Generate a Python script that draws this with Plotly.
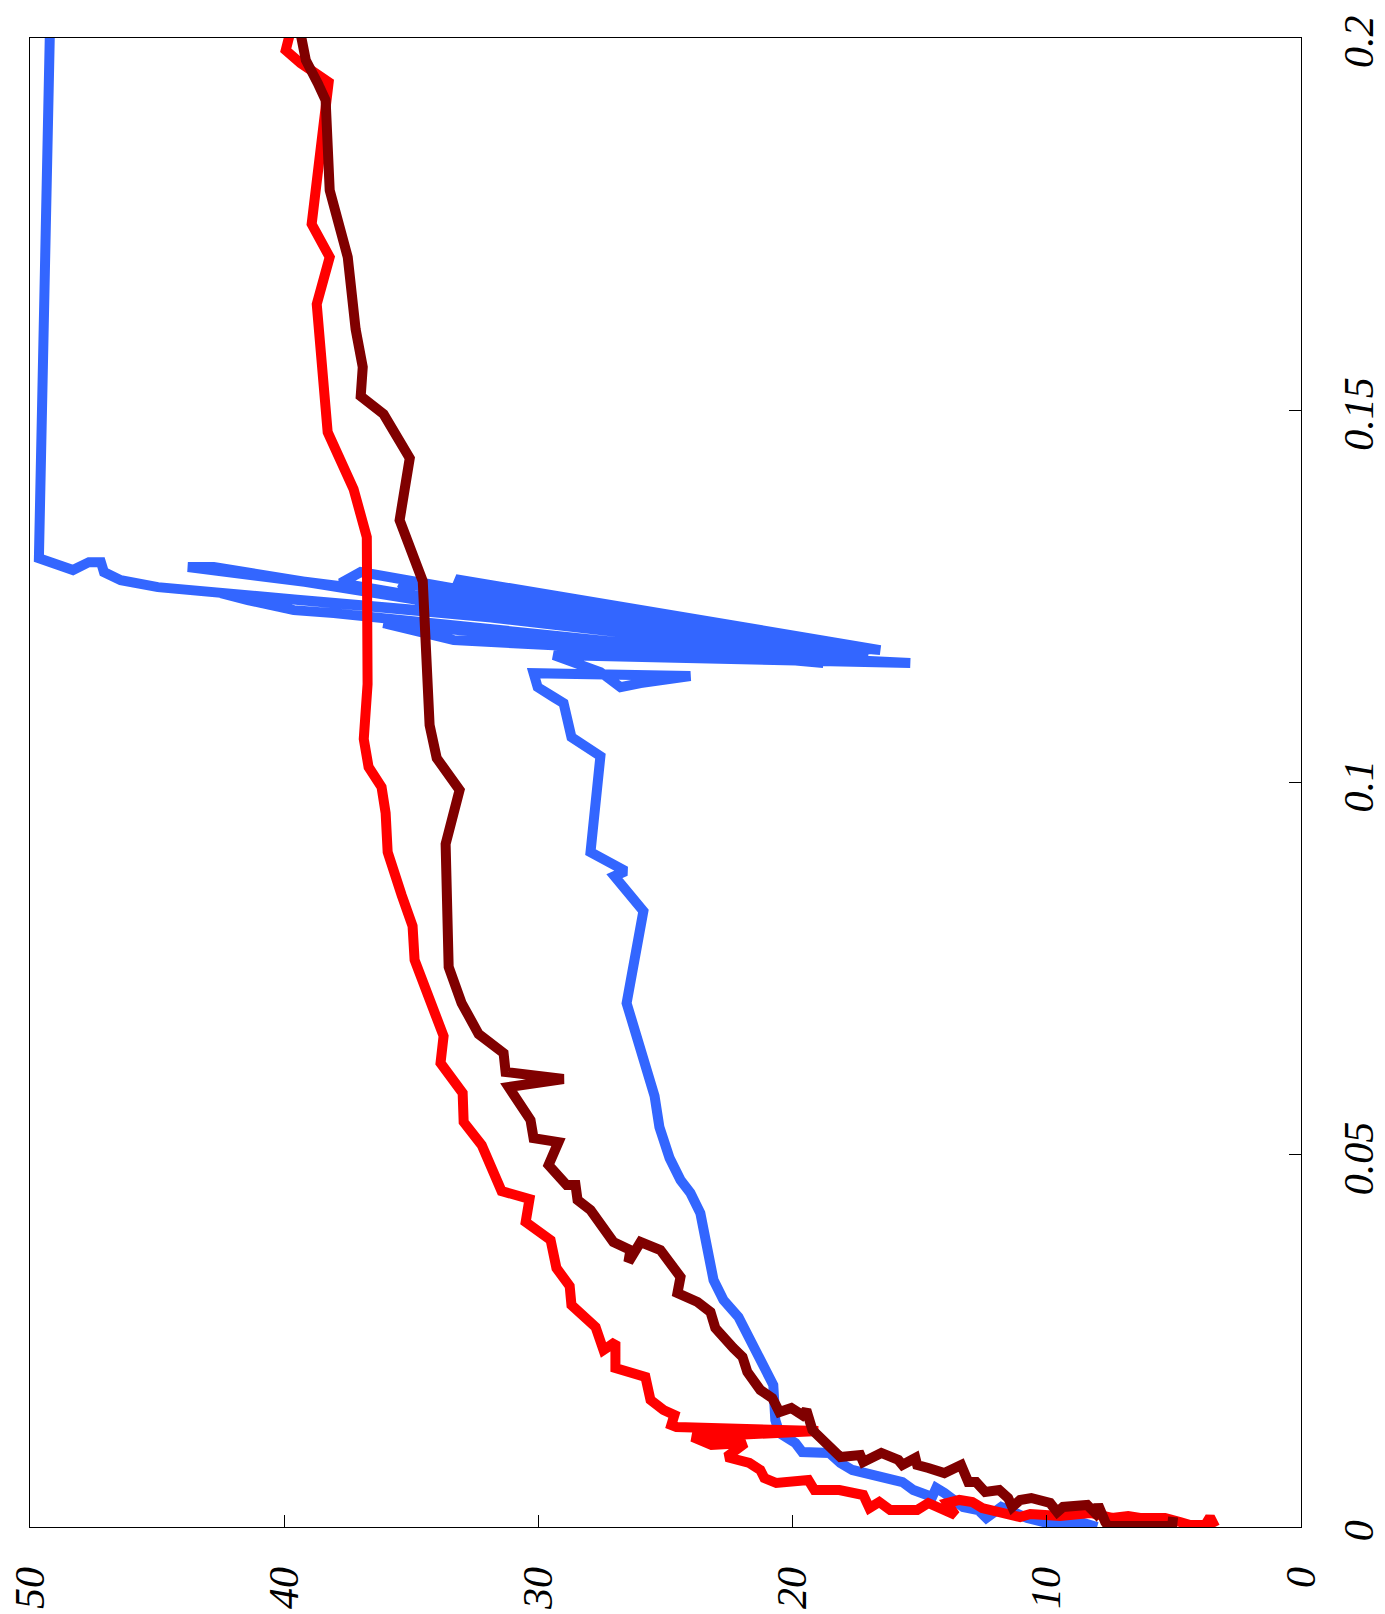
import plotly.graph_objects as go

# Parameter (right axis, 0..0.2) and value (bottom axis, 50..0) for each series
blue_t = [0.0, 0.00067, 0.00054, 0.00121, 0.00269, 0.00121, 0.00228, 0.00269, 0.00457, 0.00524,
          0.00403, 0.00497, 0.00604, 0.00698, 0.00766, 0.0086, 0.00994, 0.01007, 0.01128, 0.01262,
          0.01437, 0.01907, 0.02471, 0.0282, 0.03049, 0.03317, 0.04217, 0.04486, 0.0466, 0.04956,
          0.05372, 0.05788, 0.07037, 0.08273, 0.08743, 0.0881, 0.09065, 0.10354, 0.1061, 0.11066,
          0.11147, 0.11281, 0.11469, 0.11429, 0.11335, 0.11281, 0.11483, 0.11577, 0.11711, 0.11604,
          0.11912, 0.1214, 0.11604, 0.12275, 0.12315, 0.1245, 0.12544, 0.11778, 0.12732, 0.12584,
          0.11711, 0.12678, 0.12315, 0.11644, 0.12826, 0.12678, 0.11644, 0.12893, 0.12893, 0.11778,
          0.12584, 0.12624, 0.12718, 0.12826, 0.1296, 0.1296, 0.12853, 0.13014, 0.2005]
blue_v = [8.02, 8.69, 9.98, 10.77, 11.79, 12.38, 12.70, 13.29, 14.03, 14.35,
          14.51, 15.25, 15.68, 16.75, 17.65, 18.12, 18.55, 19.62, 19.89, 20.52,
          20.68, 20.76, 21.66, 22.13, 22.72, 23.11, 23.63, 24.02, 24.41, 24.84,
          25.24, 25.43, 26.53, 25.87, 27.01, 26.57, 27.95, 27.56, 28.70, 29.01,
          29.40, 30.03, 30.19, 24.02, 25.98, 26.77, 27.56, 28.34, 29.40, 15.37,
          33.33, 36.09, 18.79, 38.05, 39.62, 41.43, 42.49, 16.55, 33.26, 32.67,
          17.02, 35.42, 34.36, 17.34, 36.99, 37.78, 20.01, 42.77, 43.79, 17.73,
          43.95, 44.97, 46.43, 47.09, 47.21, 47.68, 48.31, 49.65, 49.22]

red_t = [0.0, 0.00134, 0.00027, 0.00027, 0.00067, 0.00121, 0.00121, 0.00148, 0.00121, 0.00188,
         0.00148, 0.00175, 0.00134, 0.00255, 0.00336, 0.00363, 0.00322, 0.00161, 0.00322, 0.00228,
         0.00228, 0.00336, 0.00255, 0.0043, 0.00497, 0.00497, 0.00631, 0.00591, 0.00658, 0.00766,
         0.0086, 0.0094, 0.01128, 0.01101, 0.01209, 0.01289, 0.01343, 0.0137, 0.01504, 0.01571,
         0.01706, 0.0184, 0.02015, 0.02135, 0.02485, 0.02377, 0.02686, 0.02981, 0.03237, 0.03478,
         0.03854, 0.04096, 0.04405, 0.04512, 0.0513, 0.05439, 0.05829, 0.06232, 0.06594, 0.07615,
         0.08071, 0.08488, 0.09065, 0.09589, 0.09938, 0.10207, 0.10583, 0.11321, 0.13296, 0.1394,
         0.14706, 0.16425, 0.17056, 0.175, 0.19406, 0.19662, 0.19836, 0.2005]
red_v = [3.38, 3.58, 3.77, 4.36, 4.76, 5.35, 6.33, 6.80, 7.43, 8.29,
         9.47, 10.65, 11.05, 12.54, 12.93, 13.44, 13.92, 13.60, 14.66, 15.10,
         16.16, 16.59, 16.98, 17.22, 18.16, 19.14, 19.38, 20.64, 21.11, 21.27,
         21.70, 22.60, 21.86, 23.19, 23.94, 18.99, 24.57, 24.77, 24.65, 25.08,
         25.59, 25.71, 25.79, 26.97, 26.97, 27.44, 27.75, 28.70, 28.77, 29.29,
         29.52, 30.50, 30.35, 31.45, 32.23, 32.94, 32.98, 33.85, 33.73, 34.87,
         34.95, 35.38, 35.93, 36.01, 36.17, 36.68, 36.87, 36.72, 36.75, 37.27,
         38.29, 38.72, 38.21, 38.92, 38.25, 39.35, 39.94, 39.78]

dark_t = [0.00134, 0.00013, 0.00013, 0.00067, 0.00295, 0.00188, 0.00295, 0.00269, 0.00201, 0.00322,
          0.00389, 0.00363, 0.00269, 0.00389, 0.00497, 0.0047, 0.00604, 0.00604, 0.00833, 0.00725,
          0.00792, 0.00833, 0.00927, 0.00833, 0.009, 0.00994, 0.00873, 0.00967, 0.0094, 0.01262,
          0.01303, 0.01571, 0.01504, 0.01598, 0.01544, 0.01732, 0.0184, 0.02082, 0.02283, 0.02404,
          0.02673, 0.02887, 0.03022, 0.03143, 0.03358, 0.0372, 0.03828, 0.03559, 0.0372, 0.03828,
          0.04083, 0.04257, 0.04392, 0.04593, 0.04593, 0.04795, 0.04862, 0.0517, 0.05224, 0.05466,
          0.05909, 0.06017, 0.06111, 0.06366, 0.06621, 0.07037, 0.07521, 0.09173, 0.09898, 0.10328,
          0.10771, 0.12705, 0.13524, 0.14357, 0.14948, 0.15189, 0.15579, 0.16089, 0.17056, 0.17956,
          0.18775, 0.19165, 0.19393, 0.19702, 0.2005]
dark_v = [5.03, 5.07, 7.59, 7.70, 7.98, 8.10, 8.41, 9.36, 9.59, 9.87,
          10.61, 11.05, 11.36, 11.52, 11.87, 12.42, 12.78, 13.09, 13.37, 14.03,
          14.66, 15.10, 15.17, 15.68, 15.84, 16.51, 17.22, 17.34, 18.12, 18.99,
          19.22, 19.46, 19.62, 20.05, 20.52, 20.80, 21.27, 21.78, 21.97, 22.33,
          23.04, 23.23, 23.74, 24.53, 24.41, 25.20, 25.98, 26.46, 26.38, 27.05,
          27.56, 27.95, 28.46, 28.54, 28.89, 29.40, 29.60, 29.21, 30.19, 30.31,
          31.17, 29.01, 31.29, 31.37, 32.35, 33.02, 33.53, 33.65, 33.10, 34.00,
          34.28, 34.55, 35.46, 35.06, 36.09, 36.99, 36.91, 37.19, 37.50, 38.21,
          38.29, 38.37, 38.68, 39.15, 39.35]

value_ticks = [0, 10, 20, 30, 40, 50]
value_labels = ["<i>0</i>", "<i>10</i>", "<i>20</i>", "<i>30</i>", "<i>40</i>", "<i>50</i>"]
param_ticks = [0, 0.05, 0.1, 0.15, 0.2]
param_labels = ["<i>0</i>", "<i>0.05</i>", "<i>0.1</i>", "<i>0.15</i>", "<i>0.2</i>"]

LW = 10
fig = go.Figure()
fig.add_trace(go.Scatter(x=blue_v, y=blue_t, mode="lines",
                         line=dict(color="#3366ff", width=LW), name="blue"))
fig.add_trace(go.Scatter(x=red_v, y=red_t, mode="lines",
                         line=dict(color="#ff0000", width=LW), name="red"))
fig.add_trace(go.Scatter(x=dark_v, y=dark_t, mode="lines",
                         line=dict(color="#800000", width=LW), name="darkred"))

tickfont = dict(family="Liberation Serif", size=42, color="black")
fig.update_layout(
    width=1377, height=1606,
    margin=dict(l=22, r=84, t=30, b=87, autoexpand=False),
    paper_bgcolor="white", plot_bgcolor="white",
    showlegend=False,
    xaxis=dict(range=[50, 0], tickvals=value_ticks, ticktext=value_labels,
               ticks="inside", ticklen=12, tickcolor="black", tickwidth=1,
               showline=True, linecolor="black", linewidth=1.2, mirror=True,
               showgrid=False, zeroline=False, tickangle=-90, tickfont=tickfont,
               ticklabelstandoff=22, ticklabeloverflow="allow", automargin=False),
    yaxis=dict(range=[0, 0.2], side="right", tickvals=param_ticks, ticktext=param_labels,
               ticks="inside", ticklen=12, tickcolor="black", tickwidth=1,
               showline=True, linecolor="black", linewidth=1.2, mirror=True,
               showgrid=False, zeroline=False, tickangle=-90, tickfont=tickfont,
               ticklabelstandoff=20, ticklabelshift=10, ticklabeloverflow="allow",
               automargin=False),
)
fig.write_html("out.html")
